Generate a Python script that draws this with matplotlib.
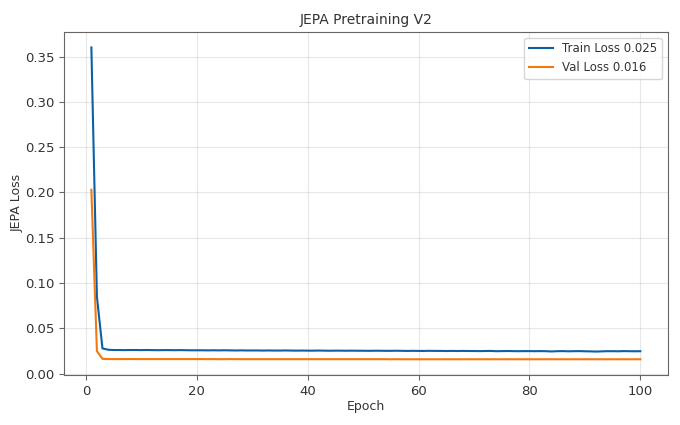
import matplotlib
matplotlib.use("Agg")
import matplotlib.pyplot as plt

epochs = list(range(1, 101))

train_loss = [
    0.3600, 0.0850, 0.0280, 0.0265, 0.0262, 0.0262, 0.0261, 0.0262, 0.0262, 0.0261,
    0.0262, 0.0261, 0.0260, 0.0261, 0.0261, 0.0260, 0.0261, 0.0260, 0.0259, 0.0259,
    0.0259, 0.0258, 0.0259, 0.0258, 0.0259, 0.0258, 0.0257, 0.0258, 0.0257, 0.0257,
    0.0257, 0.0256, 0.0257, 0.0256, 0.0256, 0.0257, 0.0256, 0.0255, 0.0256, 0.0255,
    0.0255, 0.0256, 0.0255, 0.0254, 0.0255, 0.0255, 0.0254, 0.0255, 0.0254, 0.0254,
    0.0253, 0.0254, 0.0254, 0.0253, 0.0253, 0.0254, 0.0253, 0.0252, 0.0253, 0.0252,
    0.0252, 0.0253, 0.0252, 0.0252, 0.0251, 0.0252, 0.0251, 0.0252, 0.0251, 0.0251,
    0.0250, 0.0251, 0.0252, 0.0249, 0.0250, 0.0251, 0.0250, 0.0249, 0.0250, 0.0250,
    0.0249, 0.0250, 0.0249, 0.0246, 0.0249, 0.0250, 0.0248, 0.0249, 0.0250, 0.0248,
    0.0247, 0.0245, 0.0247, 0.0249, 0.0249, 0.0248, 0.0250, 0.0249, 0.0248, 0.0249,
]

val_loss = [
    0.2030, 0.0250, 0.0165, 0.0162, 0.0162, 0.0162, 0.0162, 0.0163, 0.0162, 0.0162,
    0.0162, 0.0162, 0.0162, 0.0162, 0.0162, 0.0162, 0.0162, 0.0162, 0.0162, 0.0162,
    0.0162, 0.0161, 0.0162, 0.0161, 0.0161, 0.0162, 0.0161, 0.0161, 0.0161, 0.0161,
    0.0161, 0.0161, 0.0161, 0.0161, 0.0161, 0.0161, 0.0161, 0.0161, 0.0161, 0.0161,
    0.0161, 0.0161, 0.0161, 0.0161, 0.0161, 0.0161, 0.0161, 0.0161, 0.0161, 0.0161,
    0.0161, 0.0161, 0.0161, 0.0161, 0.0160, 0.0161, 0.0160, 0.0160, 0.0160, 0.0160,
    0.0160, 0.0160, 0.0160, 0.0160, 0.0160, 0.0160, 0.0160, 0.0160, 0.0160, 0.0160,
    0.0160, 0.0160, 0.0160, 0.0160, 0.0160, 0.0160, 0.0160, 0.0160, 0.0160, 0.0160,
    0.0160, 0.0160, 0.0160, 0.0160, 0.0160, 0.0160, 0.0160, 0.0160, 0.0160, 0.0160,
    0.0160, 0.0160, 0.0160, 0.0160, 0.0160, 0.0160, 0.0160, 0.0160, 0.0160, 0.0160,
]

text_col = "#333333"
edge_col = "#666666"
plt.rcParams.update({
    "text.color": text_col,
    "axes.labelcolor": text_col,
    "xtick.color": edge_col,
    "ytick.color": edge_col,
    "xtick.labelcolor": text_col,
    "ytick.labelcolor": text_col,
    "axes.edgecolor": edge_col,
})

fig, ax = plt.subplots(figsize=(6.8, 4.25), dpi=100)
fig.subplots_adjust(left=0.094, right=0.982, top=0.925, bottom=0.118)

ax.plot(epochs, train_loss, color="#0b5fa5", lw=1.5,
        label=f"Train Loss {train_loss[-1]:.3f}")
ax.plot(epochs, val_loss, color="#f5780f", lw=1.5,
        label=f"Val Loss {val_loss[-1]:.3f}")

ax.set_title("JEPA Pretraining V2", fontsize=10)
ax.set_xlabel("Epoch", fontsize=9, labelpad=2)
ax.set_ylabel("JEPA Loss", fontsize=9, labelpad=1)
ax.tick_params(labelsize=9.5)
ax.grid(alpha=0.3)
ax.legend(fontsize=8.5, loc="upper right")

fig.savefig("out.png", dpi=100)
